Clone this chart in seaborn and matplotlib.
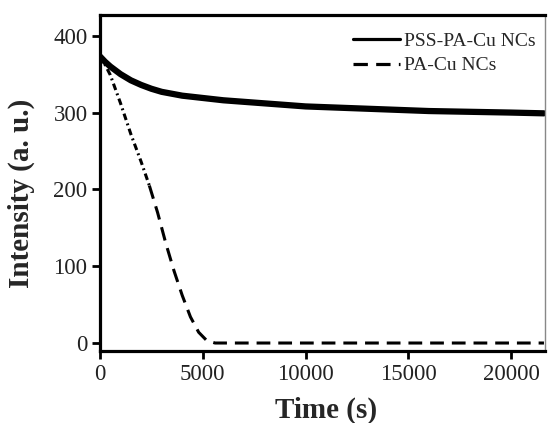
import matplotlib
matplotlib.use('Agg')
import matplotlib.pyplot as plt
import pandas as pd
import seaborn as sns

# Data
time_pss = [0, 250, 500, 1000, 1500, 2000, 2500, 3000, 4000, 5000, 6000, 7000,
            8000, 9000, 10000, 12000, 14000, 16000, 18000, 20000, 21600]
int_pss = [373, 366, 360, 350, 342, 336, 331, 327, 322, 319, 316, 314,
           312, 310, 308, 306, 304, 302, 301, 300, 299]

time_pa = [0, 500, 1000, 1500, 2000, 2400, 2800, 3200, 3600, 4000, 4400,
           4800, 5200, 5600, 6000, 21600]
int_pa = [375, 349, 312, 272, 236, 205, 170, 130, 94, 62, 34,
          14, 3, 0, 0, 0]

df_pss = pd.DataFrame({'Time': time_pss, 'Intensity': int_pss})
df_pa = pd.DataFrame({'Time': time_pa, 'Intensity': int_pa})
split = 5  # where the dash-dot part turns into dashes

sns.set_style('ticks')
plt.rcParams['font.family'] = ['Liberation Serif', 'DejaVu Serif']

fig = plt.figure(figsize=(5.48, 4.23), dpi=100)
ax = fig.add_axes([0.1825, 0.1702, 0.812, 0.7943])

sns.lineplot(x='Time', y='Intensity', data=df_pss, ax=ax, color='black',
             lw=4.5, estimator=None, label='PSS-PA-Cu NCs')
sns.lineplot(x='Time', y='Intensity', data=df_pa.iloc[:split + 1], ax=ax,
             color='black', lw=2.2, estimator=None,
             linestyle=(0, (2.2, 1.2, 0.6, 1.2)))
sns.lineplot(x='Time', y='Intensity', data=df_pa.iloc[split:], ax=ax,
             color='black', lw=2.2, estimator=None,
             linestyle=(0, (4.5, 2.6)), label='PA-Cu NCs')

ax.set_xlim(0, 21650)
ax.set_ylim(-10.4, 427)
ax.set_xticks([0, 5000, 10000, 15000, 20000])
ax.set_yticks([0, 100, 200, 300, 400])
ax.set_xlabel('Time (s)', fontsize=21, fontweight='bold')
ax.set_ylabel('Intensity (a. u.)', fontsize=21, fontweight='bold')
ax.xaxis.set_label_coords(0.508, -0.137)
ax.yaxis.set_label_coords(-0.145, 0.47)
ax.tick_params(axis='both', labelsize=16.5, length=6, width=2, direction='out',
               color='black', labelcolor='#222222', pad=3)

for side in ['left', 'bottom', 'top']:
    ax.spines[side].set_linewidth(2.3)
    ax.spines[side].set_color('black')
ax.spines['right'].set_linewidth(1)
ax.spines['right'].set_color('#888888')

leg = ax.legend(loc='upper right', bbox_to_anchor=(1.0, 0.977), frameon=False,
                fontsize=14, handlelength=2.4, handletextpad=0.2,
                labelspacing=0.35, borderaxespad=0.2, borderpad=0.3)
for line in leg.get_lines():
    line.set_linewidth(2.3)

fig.savefig('out.png', dpi=100)
